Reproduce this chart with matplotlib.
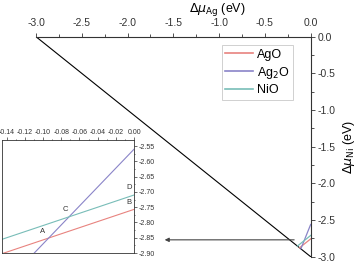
import numpy as np
import matplotlib
matplotlib.use("Agg")
import matplotlib.pyplot as plt
from matplotlib.ticker import MultipleLocator

# phase boundary lines: dmu_Ni = slope * dmu_Ag + intercept
phases = ["AgO", "Ag$_2$O", "NiO"]
slopes = [1.0, 3.1, 1.0]
intercepts = [-2.757, -2.56, -2.71]
colors = ["#e8837f", "#8a84c8", "#78bdb8"]

# corner points labelled in the zoom
point_names = ["A", "B", "C", "D"]
point_x = [-0.100, -0.006, -0.076, -0.005]
point_y = [-2.842, -2.745, -2.770, -2.697]

plt.rcParams["font.family"] = ["Liberation Sans", "DejaVu Sans"]

fig = plt.figure(figsize=(3.6, 2.65), dpi=100)
ax = fig.add_axes([0.1, 0.0313, 0.763, 0.8302])

# stability triangle edge
ax.plot([-3.0, 0.0], [0.0, -3.0], color="black", lw=0.8)
for s, b, c, n in zip(slopes, intercepts, colors, phases):
    x0 = (-3.0 - b) / (s + 1.0)
    xs = np.linspace(x0, 0.0, 20)
    ax.plot(xs, s * xs + b, color=c, lw=0.9, label=n)

ax.set_xlim(-3.0, 0.0)
ax.set_ylim(-3.0, 0.0)
ax.xaxis.tick_top()
ax.yaxis.tick_right()
ax.xaxis.set_label_position("top")
ax.yaxis.set_label_position("right")
ax.spines["left"].set_visible(False)
ax.spines["bottom"].set_visible(False)
for sp in ("top", "right"):
    ax.spines[sp].set_linewidth(0.8)
    ax.spines[sp].set_color("#333333")
ax.xaxis.set_minor_locator(MultipleLocator(0.25))
ax.yaxis.set_minor_locator(MultipleLocator(0.25))
ax.tick_params(which="both", direction="out", labelsize=7.5, width=0.6, colors="#333333")
ax.tick_params(which="major", length=3)
ax.tick_params(which="minor", length=2)
ax.tick_params(axis="x", pad=3)
ax.tick_params(axis="y", pad=2)
ax.set_xticks(np.arange(-3.0, 0.01, 0.5))
ax.set_xticklabels(["%.1f" % v for v in np.arange(-3.0, 0.01, 0.5)])
ax.set_yticks(np.arange(-3.0, 0.01, 0.5))
ax.set_yticklabels(["%.1f" % v for v in np.arange(-3.0, 0.01, 0.5)])
ax.set_xlabel(r"$\Delta\mu_{\mathrm{Ag}}$ (eV)", fontsize=9)
ax.xaxis.set_label_coords(0.66, 1.115)
ax.set_ylabel(r"$\Delta\mu_{\mathrm{Ni}}$ (eV)", fontsize=9, labelpad=4)

leg = ax.legend(loc="upper right", bbox_to_anchor=(0.935, 0.962), fontsize=9,
                fancybox=False, edgecolor="#bbbbbb", handlelength=2.2,
                handletextpad=0.3, labelspacing=0.3, borderpad=0.3,
                borderaxespad=0)
leg.get_frame().set_linewidth(0.6)
for h in leg.get_lines():
    h.set_linewidth(1.2)

# arrow pointing from the corner to the zoom panel
ax.annotate("", xy=(-1.625, -2.77), xytext=(-0.15, -2.77),
            arrowprops=dict(arrowstyle="-|>", color="#444444", lw=0.8,
                            mutation_scale=6))

# inset zoom
ins = fig.add_axes([0.0056, 0.045, 0.367, 0.427])
for s, b, c in zip(slopes, intercepts, colors):
    xs = np.linspace(-0.15, 0.0, 20)
    ins.plot(xs, s * xs + b, color=c, lw=0.8)
for n, px, py in zip(point_names, point_x, point_y):
    ins.text(px, py, n, fontsize=5.5, ha="center", va="bottom", color="#333333")
ins.set_xlim(-0.145, 0.0)
ins.set_ylim(-2.90, -2.53)
ins.xaxis.tick_top()
ins.yaxis.tick_right()
ins.set_xticks(np.arange(-0.14, 0.001, 0.02))
ins.set_xticklabels(["%.2f" % v for v in np.arange(-0.14, 0.001, 0.02)])
ins.set_yticks(np.arange(-2.90, -2.549, 0.05))
ins.set_yticklabels(["%.2f" % v for v in np.arange(-2.90, -2.549, 0.05)])
ins.xaxis.set_minor_locator(MultipleLocator(0.01))
ins.yaxis.set_minor_locator(MultipleLocator(0.025))
ins.tick_params(which="both", direction="out", labelsize=5, width=0.5,
                colors="#333333", pad=1)
ins.tick_params(which="major", length=2)
ins.tick_params(which="minor", length=1)
for sp in ins.spines.values():
    sp.set_linewidth(0.6)
    sp.set_color("#333333")

fig.savefig("out.png", dpi=100)
